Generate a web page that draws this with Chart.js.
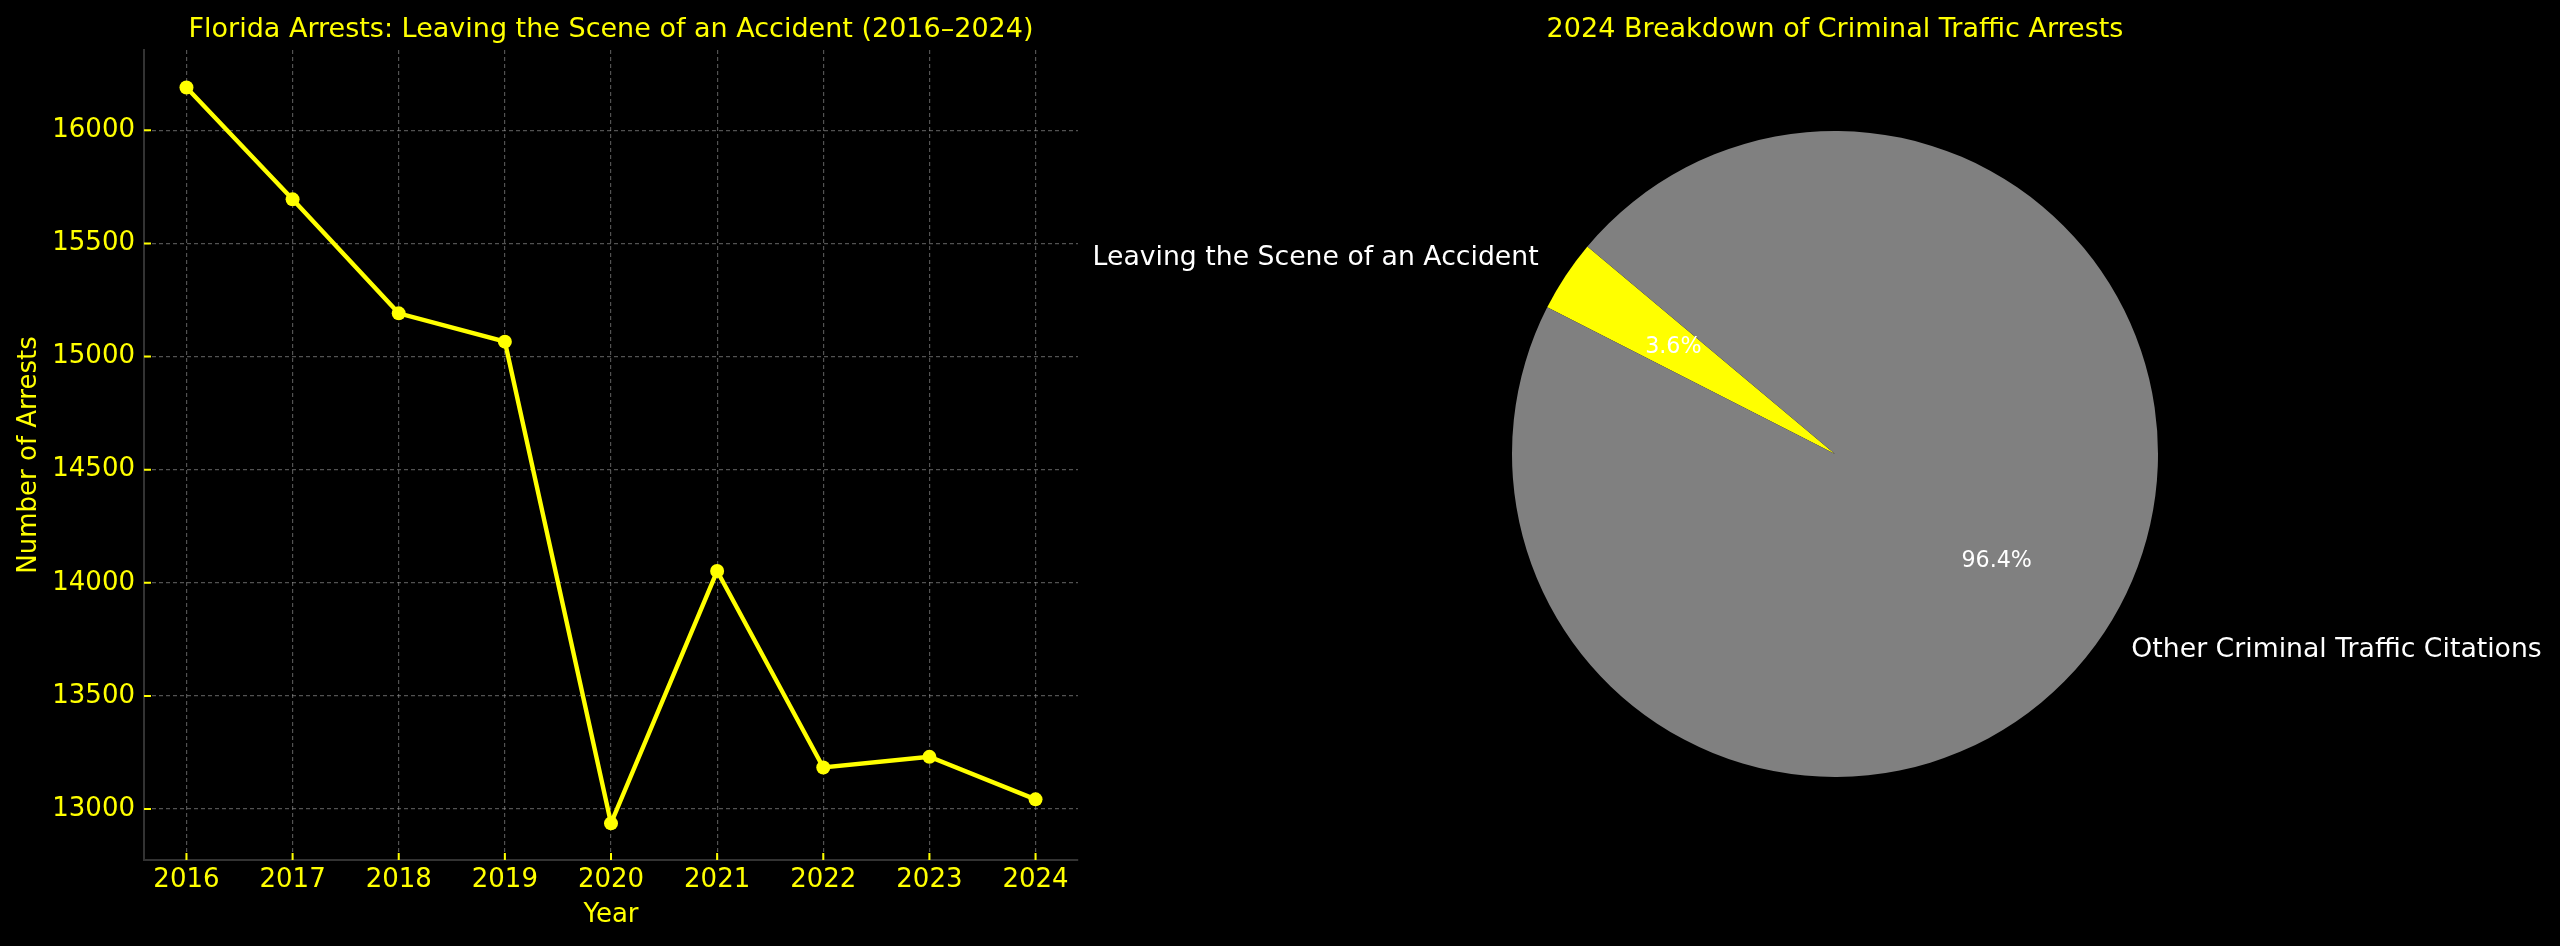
<!DOCTYPE html>
<html>
<head>
<meta charset="utf-8">
<script src="https://cdn.jsdelivr.net/npm/chart.js@4/dist/chart.umd.min.js"></script>
<style>
  html, body { margin: 0; padding: 0; background: #000; }
  body { width: 2560px; height: 946px; position: relative; overflow: hidden; }
  #lineChart { position: absolute; left: 0; top: 0; }
  #pieChart { position: absolute; left: 0; top: 0; }
</style>
</head>
<body>
<canvas id="lineChart" width="1100" height="946"></canvas>
<canvas id="pieChart" width="2560" height="946"></canvas>
<script>
// data
const years = [2016, 2017, 2018, 2019, 2020, 2021, 2022, 2023, 2024];
const arrests = [16189, 15695, 15191, 15066, 12937, 14052, 13184, 13231, 13043];
const yTicks = [13000, 13500, 14000, 14500, 15000, 15500, 16000];

const pieLabels = ['Leaving the Scene of an Accident', 'Other Criminal Traffic Citations'];
const pieValues = [13043, 349300];
const pieColors = ['#ffff00', '#808080'];

const YELLOW = '#ffff00';
Chart.defaults.font.family = "'DejaVu Sans', sans-serif";
Chart.defaults.color = YELLOW;

// small inward tick marks like the matplotlib axes
const innerTicks = {
  id: 'innerTicks',
  afterDraw(chart) {
    const ctx = chart.ctx;
    const area = chart.chartArea;
    const xs = chart.scales.x, ys = chart.scales.y;
    ctx.save();
    ctx.strokeStyle = YELLOW;
    ctx.lineWidth = 2;
    ctx.beginPath();
    yTicks.forEach(v => {
      const p = ys.getPixelForValue(v);
      ctx.moveTo(area.left, p);
      ctx.lineTo(area.left + 7, p);
    });
    years.forEach(v => {
      const p = xs.getPixelForValue(v);
      ctx.moveTo(p, area.bottom);
      ctx.lineTo(p, area.bottom - 7);
    });
    ctx.stroke();
    ctx.restore();
  }
};

const lineData = {
  datasets: [{
    label: 'Arrests',
    data: years.map((y, i) => ({ x: y, y: arrests[i] })),
    borderColor: YELLOW,
    backgroundColor: YELLOW,
    borderWidth: 4.4,
    pointRadius: 7,
    pointBorderWidth: 0,
    tension: 0
  }]
};

const gridColor = 'rgba(150,150,150,0.55)';

const lineConfig = {
  type: 'line',
  data: lineData,
  options: {
    responsive: false,
    animation: false,
    layout: { padding: { left: 0, right: 22, top: 0, bottom: 0 } },
    plugins: {
      legend: { display: false },
      tooltip: { enabled: false },
      title: {
        display: true,
        fullSize: false,
        text: 'Florida Arrests: Leaving the Scene of an Accident (2016\u20132024)',
        color: YELLOW,
        font: { size: 27, weight: 'normal' },
        padding: { top: 14, bottom: 3.6 }
      }
    },
    scales: {
      x: {
        type: 'linear',
        min: 2015.6,
        max: 2024.4,
        afterBuildTicks: scale => { scale.ticks = years.map(v => ({ value: v })); },
        afterFit: scale => { scale.height = 86; },
        ticks: { color: YELLOW, font: { size: 26 }, padding: 5, callback: v => String(v), maxRotation: 0 },
        grid: { color: gridColor, lineWidth: 1.2, drawTicks: false },
        border: { color: '#333333', width: 2, dash: [4, 3] },
        title: { display: true, text: 'Year', color: YELLOW, font: { size: 26 }, padding: { top: 0, bottom: 15 } }
      },
      y: {
        min: 12775,
        max: 16355,
        afterBuildTicks: scale => { scale.ticks = yTicks.map(v => ({ value: v })); },
        afterFit: scale => { scale.width = 144; },
        ticks: { color: YELLOW, font: { size: 26 }, padding: 9, callback: v => String(v) },
        grid: { color: gridColor, lineWidth: 1.2, drawTicks: false },
        border: { color: '#333333', width: 2, dash: [4, 3] },
        title: { display: true, text: 'Number of Arrests', color: YELLOW, font: { size: 26 }, padding: { top: 14, bottom: 0 } }
      }
    }
  },
  plugins: [innerTicks]
};

const lineChart = new Chart(document.getElementById('lineChart'), lineConfig);

// pie labels: names outside at 1.1 r, percentages inside at 0.6 r
const pieText = {
  id: 'pieText',
  afterDatasetsDraw(chart) {
    const ctx = chart.ctx;
    const meta = chart.getDatasetMeta(0);
    const total = pieValues.reduce((a, b) => a + b, 0);
    ctx.save();
    ctx.fillStyle = '#ffffff';
    ctx.textBaseline = 'middle';
    meta.data.forEach((arc, i) => {
      const mid = (arc.startAngle + arc.endAngle) / 2;
      const r = arc.outerRadius;
      const lx = arc.x + Math.cos(mid) * r * 1.1;
      const ly = arc.y + Math.sin(mid) * r * 1.1;
      ctx.font = "26.7px 'DejaVu Sans'";
      ctx.textAlign = Math.cos(mid) > 0 ? 'left' : 'right';
      ctx.fillText(pieLabels[i], lx, ly);
      const px = arc.x + Math.cos(mid) * r * 0.6;
      const py = arc.y + Math.sin(mid) * r * 0.6;
      ctx.font = "22.2px 'DejaVu Sans'";
      ctx.textAlign = 'center';
      ctx.fillText((pieValues[i] / total * 100).toFixed(1) + '%', px, py);
    });
    ctx.restore();
  }
};

const pieConfig = {
  type: 'pie',
  data: {
    labels: pieLabels,
    datasets: [{
      data: pieValues,
      backgroundColor: pieColors,
      borderWidth: 0
    }]
  },
  options: {
    responsive: false,
    animation: false,
    rotation: -63,
    layout: { padding: { left: 1110, right: 0, top: 0, bottom: 169 } },
    plugins: {
      legend: { display: false },
      tooltip: { enabled: false },
      title: {
        display: true,
        text: '2024 Breakdown of Criminal Traffic Arrests',
        color: YELLOW,
        font: { size: 27, weight: 'normal' },
        padding: { top: 14, bottom: 84.6 }
      }
    }
  },
  plugins: [pieText]
};

const pieChart = new Chart(document.getElementById('pieChart'), pieConfig);
</script>
</body>
</html>
